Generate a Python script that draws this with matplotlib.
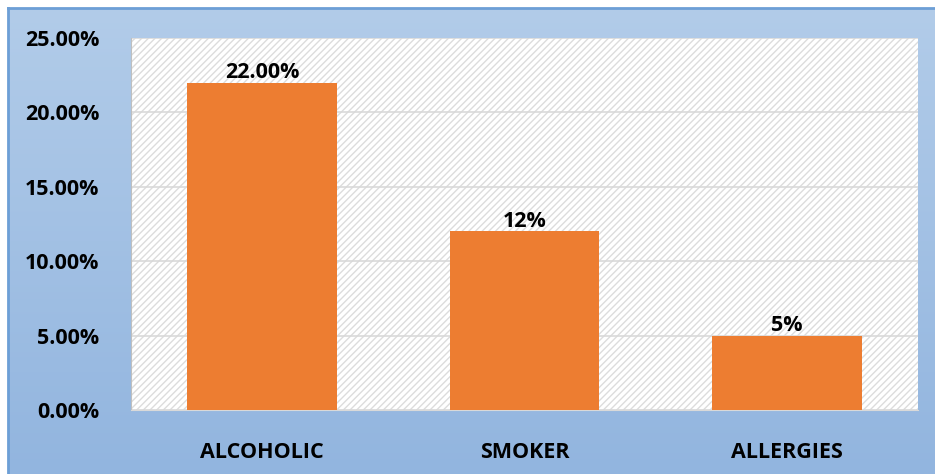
import numpy as np
import matplotlib.pyplot as plt
import matplotlib as mpl

categories = ['ALCOHOLIC', 'SMOKER', 'ALLERGIES']
values = [22.0, 12.0, 5.0]
bar_labels = ['22.00%', '12%', '5%']
yticks = [0, 5, 10, 15, 20, 25]

plt.rcParams['font.family'] = ['Open Sans', 'DejaVu Sans']
plt.rcParams['hatch.color'] = '#dcdcdc'
plt.rcParams['hatch.linewidth'] = 1.0

W, H = 935, 474
fig = plt.figure(figsize=(W / 100, H / 100), dpi=100)
fig.patch.set_facecolor('white')

# blue gradient background with border
bg = fig.add_axes([8 / W, 0, 1 - 8 / W, 1 - 8 / H])
grad = np.linspace(0, 1, 256).reshape(-1, 1)
cmap = mpl.colors.LinearSegmentedColormap.from_list('bg', ['#b2cce9', '#92b5df'])
bg.imshow(grad, aspect='auto', cmap=cmap, extent=[0, 1, 0, 1], origin='upper')
bg.set_xlim(0, 1)
bg.set_ylim(0, 1)
bg.set_xticks([])
bg.set_yticks([])
for s in bg.spines.values():
    s.set_color('#6d9fd6')
    s.set_linewidth(2)
bg.spines['bottom'].set_visible(False)
bg.spines['right'].set_visible(False)

# plot area
left, right, top, bottom = 131, 918, 38, 410
ax = fig.add_axes([left / W, 1 - bottom / H, (right - left) / W, (bottom - top) / H])
ax.set_facecolor('white')
ax.add_patch(mpl.patches.Rectangle((0, 0), 1, 1, transform=ax.transAxes,
                                   facecolor='white', edgecolor='#dcdcdc',
                                   hatch='/////', linewidth=0, zorder=0))

fs = 15.5
x = np.arange(len(categories))
ax.bar(x, values, width=0.57, color='#ed7d31', zorder=3)
for xi, v, lab in zip(x, values, bar_labels):
    ax.text(xi, v - 0.05, lab, ha='center', va='bottom', fontsize=fs,
            fontweight='bold', color='black', zorder=4)

ax.set_xlim(-0.5, len(categories) - 0.5)
ax.set_ylim(0, 25)
ax.set_yticks(yticks)
ax.set_yticklabels([f'{t:.2f}%' for t in yticks], fontsize=fs, fontweight='bold')
ax.set_xticks(x)
ax.set_xticklabels(categories, fontsize=fs, fontweight='bold')
ax.tick_params(axis='both', length=0)
ax.tick_params(axis='y', pad=23)
ax.tick_params(axis='x', pad=23)
ax.grid(axis='y', color='#d9d9d9', linewidth=1.2, zorder=1)
for s in ['top', 'right']:
    ax.spines[s].set_visible(False)
ax.spines['left'].set_color('#bfbfbf')
ax.spines['bottom'].set_color('#d9d9d9')

fig.savefig('out.png', dpi=100)
